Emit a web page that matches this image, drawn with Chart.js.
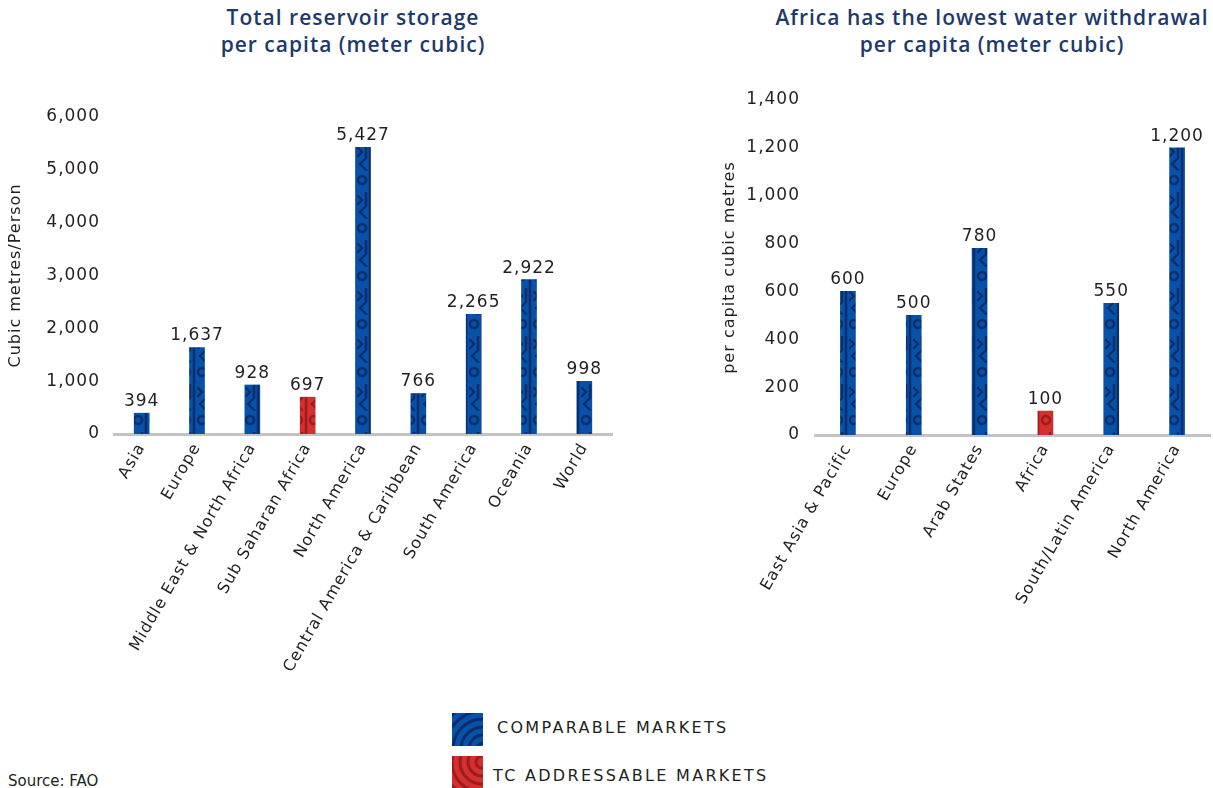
<!DOCTYPE html>
<html>
<head>
<meta charset="utf-8">
<script src="https://cdn.jsdelivr.net/npm/chart.js@4.4.1/dist/chart.umd.min.js"></script>
<style>
  body { margin: 0; width: 1213px; height: 788px; position: relative; overflow: hidden; background: #fff; font-family: "DejaVu Sans", sans-serif; color: #231f20; }
  .title { position: absolute; text-align: center; color: #1d3a6b; font-family: "Open Sans", sans-serif; font-weight: 600; font-size: 21px; letter-spacing: 1px; line-height: 27px; white-space: nowrap; }
  #wrapLeft { position: absolute; left: 0; top: 0; width: 620px; height: 700px; }
  #wrapRight { position: absolute; left: 700px; top: 0; width: 513px; height: 700px; }
  .swatch { position: absolute; left: 452px; width: 31px; height: 33px; }
  .legtext { position: absolute; font-size: 16px; letter-spacing: 2.3px; white-space: nowrap; line-height: 20px; }
  #source { position: absolute; left: 8px; top: 772px; font-size: 15px; }
</style>
</head>
<body>
<div class="title" style="left:153px;top:4px;width:400px;">Total reservoir storage<br>per capita (meter cubic)</div>
<div class="title" style="left:742px;top:4px;width:500px;">Africa has the lowest water withdrawal<br>per capita (meter cubic)</div>

<div id="wrapLeft"><canvas id="storageChart"></canvas></div>
<div id="wrapRight"><canvas id="withdrawalChart"></canvas></div>

<canvas class="swatch" id="swBlue" width="31" height="33" style="top:713px;"></canvas>
<div class="legtext" style="left:497px;top:718px;">COMPARABLE MARKETS</div>
<canvas class="swatch" id="swRed" width="31" height="33" style="top:756px;"></canvas>
<div class="legtext" style="left:493px;top:766px;">TC ADDRESSABLE MARKETS</div>

<div id="source">Source: FAO</div>

<script>
// reservoir storage per capita (m3/person)
const storageRegions = ["Asia", "Europe", "Middle East & North Africa", "Sub Saharan Africa", "North America",
  "Central America & Caribbean", "South America", "Oceania", "World"];
const storageValues = [394, 1637, 928, 697, 5427, 766, 2265, 2922, 998];
const storageTicks = [0, 1000, 2000, 3000, 4000, 5000, 6000];

// water withdrawal per capita (m3)
const withdrawalRegions = ["East Asia & Pacific", "Europe", "Arab States", "Africa", "South/Latin America", "North America"];
const withdrawalValues = [600, 500, 780, 100, 550, 1200];
const withdrawalTicks = [0, 200, 400, 600, 800, 1000, 1200, 1400];

// regions shown in red
const addressable = ["Sub Saharan Africa", "Africa"];

const FONT = '"DejaVu Sans", sans-serif';
const TEXT = '#231f20';

// striped swirl tile used to fill the bars
function makePattern(base, line) {
  const c = document.createElement('canvas');
  c.width = 16; c.height = 48;
  const g = c.getContext('2d');
  g.fillStyle = base; g.fillRect(0, 0, 16, 48);
  g.strokeStyle = line; g.lineWidth = 2.4; g.lineCap = 'round';
  g.beginPath(); g.moveTo(2, 0); g.lineTo(2, 48); g.stroke();
  g.beginPath(); g.moveTo(14, 0); g.lineTo(14, 14); g.lineTo(8, 20); g.lineTo(14, 26); g.stroke();
  g.beginPath(); g.arc(10, 36, 4, 0, Math.PI * 2); g.stroke();
  g.beginPath(); g.moveTo(6, 4); g.lineTo(10, 8); g.lineTo(6, 12); g.stroke();
  return g.createPattern(c, 'repeat');
}
const bluePattern = makePattern('#0652a8', '#0c2d6b');
const redPattern = makePattern('#d3302f', '#9c1c1f');

function drawSwatch(id, base, line, cx, cy) {
  const g = document.getElementById(id).getContext('2d');
  g.fillStyle = base; g.fillRect(0, 0, 31, 33);
  g.strokeStyle = line; g.lineWidth = 3;
  for (let r = 6; r < 50; r += 8) {
    g.beginPath(); g.arc(cx, cy, r, 0, Math.PI * 2); g.stroke();
  }
}
drawSwatch('swBlue', '#0652a8', '#0c2d6b', 31, 36);
drawSwatch('swRed', '#d3302f', '#9c1c1f', 30, 6);

// wider tracking for all canvas text (reset whenever the canvas is resized)
const tracking = {
  id: 'tracking',
  beforeLayout(chart) { chart.ctx.letterSpacing = '1px'; },
  beforeDraw(chart) { chart.ctx.letterSpacing = '1px'; }
};

// value printed above each bar
const valueLabels = {
  id: 'valueLabels',
  afterDatasetsDraw(chart) {
    const ctx = chart.ctx;
    const ds = chart.data.datasets[0];
    ctx.save();
    ctx.font = '17px ' + FONT;
    ctx.letterSpacing = '1px';
    ctx.fillStyle = TEXT;
    ctx.textAlign = 'center';
    ctx.textBaseline = 'bottom';
    chart.getDatasetMeta(0).data.forEach((bar, i) => {
      ctx.fillText(ds.data[i].toLocaleString('en-US'), bar.x, bar.y - 3);
    });
    ctx.restore();
  }
};

function makeChart(id, labels, values, ticks, yTitle, cfg) {
  const colors = labels.map(l => addressable.includes(l) ? redPattern : bluePattern);
  return new Chart(document.getElementById(id), {
    type: 'bar',
    data: {
      labels: labels,
      datasets: [{ data: values, backgroundColor: colors, barThickness: 15 }]
    },
    options: {
      responsive: true,
      maintainAspectRatio: false,
      animation: false,
      layout: { padding: { top: cfg.top, right: cfg.right, left: 0, bottom: 0 } },
      plugins: { legend: { display: false }, tooltip: { enabled: false } },
      scales: {
        x: {
          grid: { display: false, drawTicks: false },
          border: { display: true, color: '#c3c3c6', width: 3 },
          ticks: { color: TEXT, font: { family: FONT, size: 16 }, minRotation: 60, maxRotation: 60, autoSkip: false, padding: 6 },
          afterFit: s => { s.height = cfg.xHeight; }
        },
        y: {
          min: 0,
          max: ticks[ticks.length - 1],
          afterBuildTicks: s => { s.ticks = ticks.map(v => ({ value: v })); },
          grid: { display: false, drawTicks: false },
          border: { display: false },
          ticks: { color: TEXT, font: { family: FONT, size: 17 }, padding: cfg.tickPad,
                   callback: v => v.toLocaleString('en-US') },
          title: { display: true, text: yTitle, color: TEXT, font: { family: FONT, size: 16 }, padding: { top: cfg.titlePad } },
          afterFit: s => { s.width = cfg.yWidth; }
        }
      }
    },
    plugins: [tracking, valueLabels]
  });
}

makeChart('storageChart', storageRegions, storageValues, storageTicks, 'Cubic metres/Person',
  { top: 117, right: 8, xHeight: 266, yWidth: 114, tickPad: 14, titlePad: 6 });
makeChart('withdrawalChart', withdrawalRegions, withdrawalValues, withdrawalTicks, 'per capita cubic metres',
  { top: 100, right: 3, xHeight: 265, yWidth: 115, tickPad: 15, titlePad: 20 });
</script>
</body>
</html>
